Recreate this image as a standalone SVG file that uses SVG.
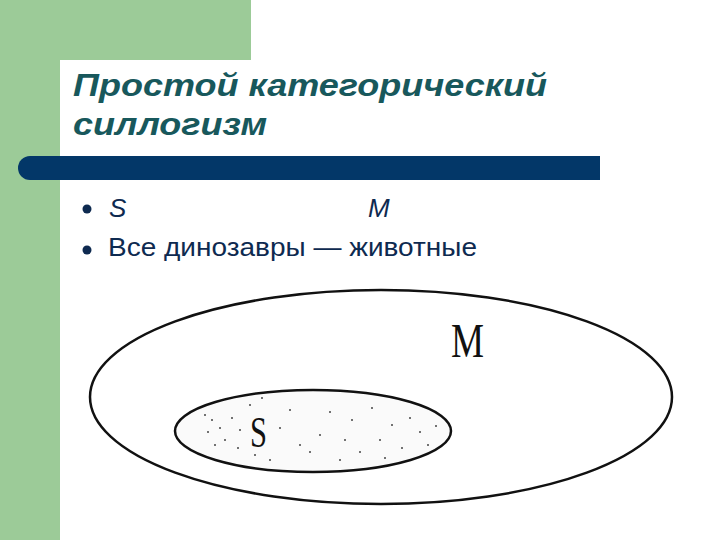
<svg xmlns="http://www.w3.org/2000/svg" width="720" height="540" viewBox="0 0 720 540">
<style>
.title{font-family:"Liberation Sans",Arial,sans-serif;font-weight:bold;font-style:italic;font-size:32px;fill:#18585c}
.body{font-family:"Liberation Sans",Arial,sans-serif;font-size:26px;fill:#0e2a50}
.lab{font-family:"Liberation Serif","Times New Roman",serif;fill:#111}
.dot{fill:#444}
</style>
<rect x="0" y="0" width="720" height="540" fill="#ffffff"/>
<g id="background">
<rect x="0" y="0" width="251" height="60" fill="#9ccb98"/>
<rect x="0" y="0" width="60" height="540" fill="#9ccb98"/>
<path d="M60 540 V74 Q60 60 74 60 H251 V0 H720 V540 Z" fill="#ffffff"/>
<path d="M30 156 H600 V180 H30 A12 12 0 0 1 30 156 Z" fill="#033768"/>
</g>
<g id="title">
<text class="title" x="73" y="96" textLength="474" lengthAdjust="spacingAndGlyphs">Простой категорический</text>
<text class="title" x="73" y="135" textLength="194" lengthAdjust="spacingAndGlyphs">силлогизм</text>
</g>
<g id="bullets">
<circle cx="87" cy="209" r="4.5" fill="#0e2a50"/>
<circle cx="87" cy="250" r="4.5" fill="#0e2a50"/>
<text class="body" x="109" y="217" font-style="italic">S</text>
<text class="body" x="368" y="217" font-style="italic">M</text>
<text class="body" x="108" y="256" textLength="369" lengthAdjust="spacingAndGlyphs">Все динозавры — животные</text>
</g>
<g id="M">
<ellipse cx="381" cy="397" rx="291" ry="107" fill="none" stroke="#111" stroke-width="2.5"/>
<text class="lab" x="451" y="357" font-size="48" textLength="33" lengthAdjust="spacingAndGlyphs">M</text>
</g>
<g id="S">
<ellipse cx="313" cy="431" rx="138" ry="41" fill="#fafafa" stroke="#111" stroke-width="2.5"/>
<g class="dot">
<circle cx="205" cy="415" r="1"/><circle cx="212" cy="420" r="1"/><circle cx="220" cy="428" r="1"/><circle cx="208" cy="432" r="1"/>
<circle cx="225" cy="440" r="1"/><circle cx="215" cy="445" r="1"/><circle cx="232" cy="418" r="1"/><circle cx="240" cy="430" r="1"/>
<circle cx="238" cy="448" r="1"/><circle cx="250" cy="405" r="1"/><circle cx="262" cy="398" r="1"/><circle cx="280" cy="428" r="1"/>
<circle cx="290" cy="410" r="1"/><circle cx="300" cy="445" r="1"/><circle cx="310" cy="452" r="1"/><circle cx="320" cy="435" r="1"/>
<circle cx="330" cy="412" r="1"/><circle cx="345" cy="440" r="1"/><circle cx="352" cy="420" r="1"/><circle cx="360" cy="452" r="1"/>
<circle cx="372" cy="408" r="1"/><circle cx="380" cy="440" r="1"/><circle cx="392" cy="425" r="1"/><circle cx="402" cy="448" r="1"/>
<circle cx="410" cy="418" r="1"/><circle cx="420" cy="432" r="1"/><circle cx="428" cy="445" r="1"/><circle cx="436" cy="426" r="1"/>
<circle cx="270" cy="460" r="1"/><circle cx="255" cy="455" r="1"/><circle cx="340" cy="460" r="1"/><circle cx="385" cy="458" r="1"/>
</g>
<text class="lab" x="250" y="447" font-size="44" textLength="17" lengthAdjust="spacingAndGlyphs">S</text>
</g>
</svg>
